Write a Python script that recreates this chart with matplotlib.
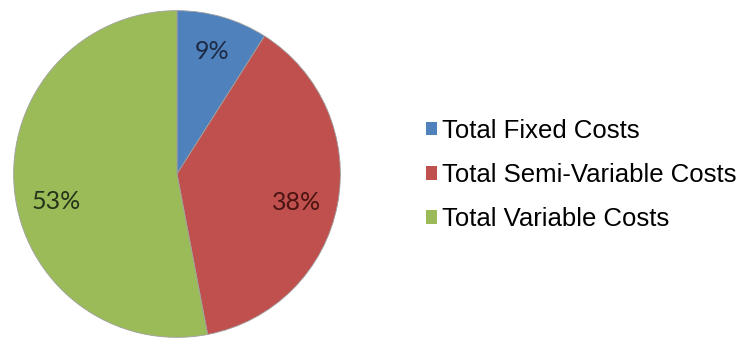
import numpy as np
import matplotlib
matplotlib.use("Agg")
import matplotlib.pyplot as plt

categories = ["Total Fixed Costs", "Total Semi-Variable Costs", "Total Variable Costs"]
shares = [9, 38, 53]
colors = ["#4F81BD", "#C0504D", "#9BBB59"]
label_colors = ["#1c2a44", "#4a1412", "#26331a"]
# best-fit placement of each percentage label: angle nudge (deg) and radius
label_nudge = [0.0, -2.7, 7.6]
label_radius = [0.78, 0.75, 0.76]

W, H = 753, 338
fig = plt.figure(figsize=(W / 100, H / 100), dpi=100)
fig.patch.set_facecolor("white")

cx, cy, r = 177, 174, 165
ax = fig.add_axes([(cx - r) / W, (H - cy - r) / H, 2 * r / W, 2 * r / H])
ax.set_aspect("equal")

wedges, texts, autotexts = ax.pie(
    shares, colors=colors, startangle=90, counterclock=False, radius=1,
    autopct=lambda p: f"{p:.0f}%", pctdistance=0.77,
    wedgeprops=dict(edgecolor="#a0a0a0", linewidth=0.6),
    textprops=dict(fontsize=18, family="Lato"),
)
for w, t, c, dn, rr in zip(wedges, autotexts, label_colors, label_nudge, label_radius):
    mid = np.deg2rad((w.theta1 + w.theta2) / 2 + dn)
    t.set_position((rr * np.cos(mid), rr * np.sin(mid)))
    t.set_color(c)
ax.set_xlim(-1.01, 1.01)
ax.set_ylim(-1.01, 1.01)
ax.axis("off")

leg = fig.legend(
    wedges, categories, loc="upper left",
    bbox_to_anchor=(426 / W, 1 - 119 / H),
    frameon=False, borderpad=0, borderaxespad=0,
    handlelength=0.42, handleheight=0.42, handletextpad=0.22,
    labelspacing=0.78,
    prop=dict(family="Liberation Sans", size=18.5),
)
for h in leg.legend_handles:
    h.set_edgecolor("none")

fig.savefig("out.png", dpi=100)
